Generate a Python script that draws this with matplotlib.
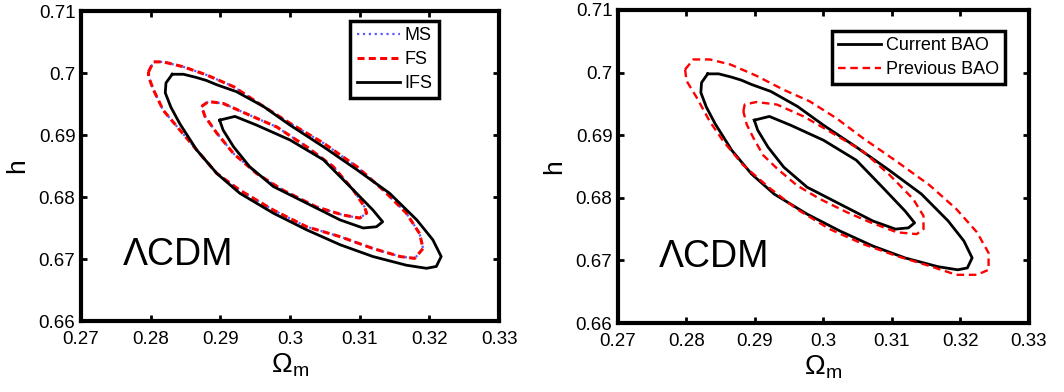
import numpy as np
import matplotlib
matplotlib.use("Agg")
import matplotlib.pyplot as plt

plt.rcParams['font.family'] = ['Liberation Sans', 'DejaVu Sans']
plt.rcParams['mathtext.fontset'] = 'custom'
plt.rcParams['mathtext.rm'] = 'Liberation Sans'
plt.rcParams['mathtext.it'] = 'Liberation Sans'

# axis ticks
xticks = [0.27, 0.28, 0.29, 0.30, 0.31, 0.32, 0.33]
xticklabels = ['0.27', '0.28', '0.29', '0.3', '0.31', '0.32', '0.33']
yticks = [0.66, 0.67, 0.68, 0.69, 0.70, 0.71]
yticklabels = ['0.66', '0.67', '0.68', '0.69', '0.7', '0.71']

# IFS / current BAO contours (Omega_m, h)
ifs_outer_om = [0.2831, 0.2847, 0.2865, 0.2880, 0.2895, 0.2923, 0.2962, 0.3000, 0.3048, 0.3096,
                0.3143, 0.3182, 0.3205, 0.3217, 0.3210, 0.3196, 0.3167, 0.3119, 0.3072, 0.3024,
                0.2976, 0.2928, 0.2895, 0.2866, 0.2842, 0.2829, 0.2821, 0.2822, 0.2831]
ifs_outer_h = [0.6998, 0.6998, 0.6993, 0.6988, 0.6981, 0.6970, 0.6946, 0.6916, 0.6881, 0.6844,
               0.6806, 0.6763, 0.6731, 0.6704, 0.6688, 0.6685, 0.6690, 0.6704, 0.6723, 0.6747,
               0.6774, 0.6806, 0.6838, 0.6876, 0.6918, 0.6945, 0.6968, 0.6984, 0.6998]
ifs_inner_om = [0.2899, 0.2921, 0.2952, 0.3000, 0.3048, 0.3086, 0.3119, 0.3133, 0.3124, 0.3105,
                0.3072, 0.3024, 0.2976, 0.2942, 0.2919, 0.2904, 0.2899]
ifs_inner_h = [0.6924, 0.6930, 0.6916, 0.6892, 0.6860, 0.6817, 0.6779, 0.6760, 0.6752, 0.6750,
               0.6763, 0.6790, 0.6817, 0.6849, 0.6881, 0.6908, 0.6924]

# FS contours (MS lies on top of them)
fs_outer_om = [0.2797, 0.2804, 0.2818, 0.2847, 0.2880, 0.2919, 0.2962, 0.3000, 0.3048, 0.3096,
               0.3134, 0.3167, 0.3186, 0.3191, 0.3179, 0.3158, 0.3119, 0.3072, 0.3024, 0.2976,
               0.2928, 0.2895, 0.2866, 0.2842, 0.2818, 0.2804, 0.2797, 0.2797]
fs_outer_h = [0.7002, 0.7018, 0.7018, 0.7010, 0.6997, 0.6978, 0.6946, 0.6919, 0.6887, 0.6849,
              0.6811, 0.6774, 0.6741, 0.6717, 0.6701, 0.6704, 0.6717, 0.6736, 0.6752, 0.6779,
              0.6811, 0.6838, 0.6876, 0.6908, 0.6940, 0.6973, 0.6994, 0.7002]
fs_inner_om = [0.2873, 0.2883, 0.2904, 0.2942, 0.2981, 0.3024, 0.3062, 0.3091, 0.3107, 0.3110,
               0.3100, 0.3076, 0.3038, 0.2990, 0.2952, 0.2919, 0.2895, 0.2878, 0.2873]
fs_inner_h = [0.6946, 0.6954, 0.6951, 0.6932, 0.6913, 0.6881, 0.6849, 0.6811, 0.6784, 0.6774,
              0.6766, 0.6771, 0.6784, 0.6811, 0.6838, 0.6870, 0.6903, 0.6930, 0.6946]
ms_outer_om = fs_outer_om
ms_outer_h = fs_outer_h
ms_inner_om = fs_inner_om
ms_inner_h = fs_inner_h

# previous BAO contours
prev_outer_om = [0.2798, 0.2810, 0.2834, 0.2864, 0.2902, 0.2941, 0.2980, 0.3019, 0.3058, 0.3107,
                 0.3155, 0.3194, 0.3224, 0.3241, 0.3241, 0.3224, 0.3194, 0.3155, 0.3107, 0.3058,
                 0.3009, 0.2961, 0.2922, 0.2883, 0.2854, 0.2834, 0.2815, 0.2800, 0.2798]
prev_outer_h = [0.7005, 0.7021, 0.7021, 0.7013, 0.6995, 0.6973, 0.6954, 0.6927, 0.6895, 0.6858,
                0.6820, 0.6782, 0.6745, 0.6712, 0.6685, 0.6677, 0.6677, 0.6691, 0.6707, 0.6726,
                0.6750, 0.6782, 0.6815, 0.6852, 0.6890, 0.6922, 0.6960, 0.6987, 0.7005]
prev_inner_om = [0.2883, 0.2885, 0.2902, 0.2932, 0.2971, 0.3009, 0.3058, 0.3097, 0.3131, 0.3146,
                 0.3146, 0.3136, 0.3107, 0.3068, 0.3034, 0.2995, 0.2961, 0.2932, 0.2912, 0.2898,
                 0.2888, 0.2883]
prev_inner_h = [0.6938, 0.6949, 0.6953, 0.6949, 0.6930, 0.6906, 0.6874, 0.6836, 0.6798, 0.6771,
                0.6750, 0.6742, 0.6745, 0.6761, 0.6777, 0.6798, 0.6820, 0.6847, 0.6868, 0.6895,
                0.6917, 0.6938]


def style_axes(ax):
    ax.set_xlim(0.27, 0.33)
    ax.set_ylim(0.66, 0.71)
    ax.set_xticks(xticks)
    ax.set_xticklabels(xticklabels)
    ax.set_yticks(yticks)
    ax.set_yticklabels(yticklabels)
    ax.tick_params(direction='in', length=4, width=2, top=True, right=True,
                   labelsize=13.5)
    ax.tick_params(axis='x', pad=7)
    ax.tick_params(axis='y', pad=4)
    for s in ax.spines.values():
        s.set_linewidth(3)
    ax.set_xlabel(r'$\Omega_{\rm m}$', fontsize=20, labelpad=3)
    ax.set_ylabel('h', fontsize=19, labelpad=7)
    ax.text(0.2760, 0.6690, 'ΛCDM', fontsize=27, ha='left', va='baseline')


def add_legend(ax, anchor):
    leg = ax.legend(loc='upper right', bbox_to_anchor=anchor, fontsize=13,
                    fancybox=False, framealpha=1, edgecolor='black', handlelength=2.4,
                    handletextpad=0.25, borderpad=0.35, labelspacing=0.38, borderaxespad=0)
    leg.get_frame().set_linewidth(2.5)
    return leg


fig = plt.figure(figsize=(10.64, 3.92), dpi=100)
ax1 = fig.add_axes([0.0761, 0.1811, 0.3929, 0.7908])
ax2 = fig.add_axes([0.5808, 0.1760, 0.3863, 0.7985])

# left panel
ax1.plot(ms_outer_om, ms_outer_h, color='#5a5aff', ls=':', lw=1.6, label='MS')
ax1.plot(ms_inner_om, ms_inner_h, color='#5a5aff', ls=':', lw=1.6)
ax1.plot(fs_outer_om, fs_outer_h, color='red', ls='--', lw=2.2, dashes=(2.3, 1.4), label='FS')
ax1.plot(fs_inner_om, fs_inner_h, color='red', ls='--', lw=2.2, dashes=(2.3, 1.4))
ax1.plot(ifs_outer_om, ifs_outer_h, color='black', lw=2, label='IFS')
ax1.plot(ifs_inner_om, ifs_inner_h, color='black', lw=2)
style_axes(ax1)
add_legend(ax1, (0.856, 0.968))

# right panel
ax2.plot(ifs_outer_om, ifs_outer_h, color='black', lw=2, label='Current BAO')
ax2.plot(ifs_inner_om, ifs_inner_h, color='black', lw=2)
ax2.plot(prev_outer_om, prev_outer_h, color='red', ls='--', lw=1.7, dashes=(3.2, 2.0), label='Previous BAO')
ax2.plot(prev_inner_om, prev_inner_h, color='red', ls='--', lw=1.7, dashes=(3.2, 2.0))
style_axes(ax2)
add_legend(ax2, (0.942, 0.933))

fig.savefig('out.png', dpi=100)
